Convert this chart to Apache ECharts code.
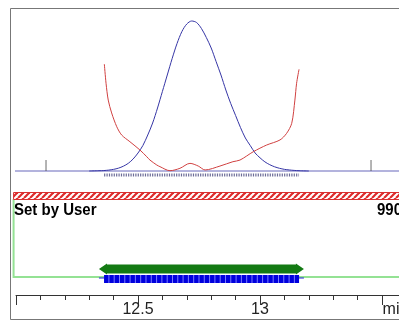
<!DOCTYPE html>
<html>
<head>
<meta charset="utf-8">
<style>
  html, body { margin: 0; padding: 0; background: #fff; }
  #chart { width: 399px; height: 322px; }
</style>
<script src="https://cdn.jsdelivr.net/npm/echarts@6.0.0/dist/echarts.min.js"></script>
</head>
<body>
<div id="chart"></div>
<script>
// Chromatogram trace (blue), min / signal
const BLUE_TIME = [12.30, 12.34, 12.36, 12.38, 12.40, 12.42, 12.44, 12.46, 12.48, 12.50, 12.52, 12.54, 12.56, 12.58, 12.60, 12.62, 12.64, 12.66, 12.68, 12.70, 12.72, 12.74, 12.76, 12.78, 12.80, 12.82, 12.84, 12.86, 12.88, 12.90, 12.92, 12.94, 12.96, 12.98, 13.00, 13.02, 13.04, 13.06, 13.08, 13.10, 13.12, 13.14, 13.16, 13.20];
const BLUE_SIGNAL = [0, 0.2, 0.3, 0.6, 1.1, 1.9, 3.2, 5.1, 8.0, 12, 17, 24, 32, 42, 53, 64, 75, 85, 93, 98, 100, 99, 95, 89, 82, 73, 64, 54, 45, 37, 29, 22, 17, 12, 8.8, 6.1, 4.2, 2.8, 1.8, 1.1, 0.7, 0.4, 0.2, 0];

// Purity / threshold curve (red)
const RED_TIME = [12.362, 12.369, 12.378, 12.392, 12.413, 12.433, 12.467, 12.508, 12.536, 12.549, 12.577, 12.590, 12.631, 12.672, 12.713, 12.747, 12.775, 12.836, 12.889, 12.918, 12.973, 13.027, 13.082, 13.109, 13.130, 13.143, 13.150, 13.160];
const RED_SIGNAL = [71.3, 58.5, 47.3, 38.7, 29.5, 24, 19.5, 14, 9.5, 7.3, 4, 2.9, 0.2, 1.8, 5.1, 3.3, 0.7, 3.3, 6.2, 7.3, 12.9, 17.3, 20.7, 25.1, 31.8, 47.3, 58.5, 67.8];

// markers and ranges (min)
const MARKER_TIME = [12.123, 13.455];
const BASELINE_RANGE = [11.988, 13.60];
const SCAN_RANGE = [12.361, 13.160];
const PEAK_RANGE = [12.340, 13.180];
const HATCH_RANGE = [11.988, 13.60];

const X_TICK_LABELS = { '12.5': '12.5', '13': '13', '13.5': '{u|min}' };
const LABEL_LEFT = 'Set by User';
const LABEL_RIGHT = '990';

// rows of the lower panel, px below the baseline
const ROW = { dots: 4, hatchTop: 21, hatchBottom: 28, arrow: 98, greenLine: 106, thin: 107, bar: 108 };

const chart = echarts.init(document.getElementById('chart'), null, { renderer: 'canvas' });

// red diagonal hatch
function hatchPattern() {
  const c = document.createElement('canvas');
  c.width = 6; c.height = 6;
  const g = c.getContext('2d');
  g.fillStyle = '#fff';
  g.fillRect(0, 0, 6, 6);
  g.strokeStyle = '#dd2a2a';
  g.lineWidth = 2.2;
  [-6, 0, 6].forEach(k => {
    g.beginPath();
    g.moveTo(k, 6);
    g.lineTo(k + 6, 0);
    g.stroke();
  });
  return c;
}
const hatch = hatchPattern();

const span = (a, b, row) => [[a, row], [b, row]];
const axisFont = 'Arial, "Liberation Sans", sans-serif';
const boldFont = 'bold 15px Arial, "Liberation Sans", sans-serif';

chart.setOption({
  animation: false,
  grid: [
    { left: 16, right: -105, top: 21, height: 150, outerBoundsMode: 'none', containLabel: false },
    { left: 16, right: -105, top: 171, height: 124, outerBoundsMode: 'none', containLabel: false }
  ],
  xAxis: [
    { gridIndex: 0, type: 'value', min: 12, max: 14, show: false },
    {
      gridIndex: 1, type: 'value', min: 12, max: 14, interval: 0.5, position: 'bottom',
      axisLine: { onZero: false, lineStyle: { color: '#333', width: 1 } },
      axisTick: { length: 10, lineStyle: { color: '#333' } },
      minorTick: { show: true, splitNumber: 5, length: 5, lineStyle: { color: '#333' } },
      splitLine: { show: false },
      axisLabel: {
        margin: 7,
        fontSize: 16,
        fontFamily: axisFont,
        color: '#222',
        formatter: v => X_TICK_LABELS[String(v)] || '',
        rich: { u: { fontSize: 16, fontFamily: axisFont, color: '#222', padding: [0, 0, 0, 27] } }
      }
    }
  ],
  yAxis: [
    { gridIndex: 0, type: 'value', min: 0, max: 100, show: false },
    { gridIndex: 1, type: 'value', min: 0, max: 124, inverse: true, show: false }
  ],
  series: [
    // baseline
    {
      type: 'line', xAxisIndex: 0, yAxisIndex: 0, clip: false,
      data: span(BASELINE_RANGE[0], BASELINE_RANGE[1], 0),
      showSymbol: false,
      lineStyle: { color: '#9a9ad2', width: 1.6 }, z: 2
    },
    {
      type: 'line', xAxisIndex: 0, yAxisIndex: 0, clip: false,
      data: BLUE_TIME.map((t, i) => [t, BLUE_SIGNAL[i]]),
      showSymbol: false, smooth: 0.3,
      lineStyle: { color: '#3535a5', width: 1 }, z: 3
    },
    {
      type: 'line', xAxisIndex: 0, yAxisIndex: 0, clip: false,
      data: RED_TIME.map((t, i) => [t, RED_SIGNAL[i]]),
      showSymbol: false, smooth: 0.3,
      lineStyle: { color: '#d04040', width: 1 }, z: 4
    },
    {
      type: 'scatter', xAxisIndex: 0, yAxisIndex: 0,
      data: MARKER_TIME.map(t => [t, 0]),
      symbol: 'rect', symbolSize: [1, 11], symbolOffset: [0, '-50%'],
      itemStyle: { color: '#444' }, z: 5
    },
    // scan ticks under the baseline
    {
      type: 'line', xAxisIndex: 1, yAxisIndex: 1, clip: false,
      data: span(SCAN_RANGE[0], SCAN_RANGE[1], ROW.dots),
      showSymbol: false,
      lineStyle: { color: '#6c6c98', width: 3, type: [1.2, 1.2] }
    },
    // hatched band
    {
      type: 'custom', xAxisIndex: 1, yAxisIndex: 1, clip: false,
      data: [[HATCH_RANGE[0], HATCH_RANGE[1]]],
      encode: { x: [0, 1] },
      renderItem: (params, api) => {
        const p0 = api.coord([api.value(0), ROW.hatchTop]);
        const p1 = api.coord([api.value(1), ROW.hatchBottom]);
        return {
          type: 'rect',
          shape: { x: p0[0] + 0.5, y: p0[1] + 0.5, width: p1[0] - p0[0], height: p1[1] - p0[1] },
          style: { fill: { image: hatch, repeat: 'repeat' }, stroke: '#d83030', lineWidth: 1 }
        };
      }
    },
    // light green L line
    {
      type: 'custom', xAxisIndex: 1, yAxisIndex: 1, clip: false,
      data: [[HATCH_RANGE[0], HATCH_RANGE[1]]],
      encode: { x: [0, 1] },
      renderItem: (params, api) => {
        const a = api.coord([api.value(0), ROW.hatchBottom]);
        const b = api.coord([api.value(0), ROW.greenLine]);
        const c = api.coord([api.value(1), ROW.greenLine]);
        return {
          type: 'polyline',
          shape: { points: [[a[0] + 0.5, a[1]], [b[0] + 0.5, b[1]], [c[0], c[1]]] },
          style: { stroke: '#94e294', lineWidth: 2, fill: null }
        };
      },
      z: 1
    },
    // green peak arrow
    {
      type: 'custom', xAxisIndex: 1, yAxisIndex: 1, clip: false,
      data: [[PEAK_RANGE[0], PEAK_RANGE[1]]],
      encode: { x: [0, 1] },
      renderItem: (params, api) => {
        const a = api.coord([api.value(0), ROW.arrow]);
        const b = api.coord([api.value(1), ROW.arrow]);
        const h = 4.5, hh = 5.5, len = 8;
        return {
          type: 'polygon',
          shape: {
            points: [
              [a[0], a[1]], [a[0] + len, a[1] - hh], [a[0] + len, a[1] - h],
              [b[0] - len, b[1] - h], [b[0] - len, b[1] - hh], [b[0], b[1]],
              [b[0] - len, b[1] + hh], [b[0] - len, b[1] + h],
              [a[0] + len, a[1] + h], [a[0] + len, a[1] + hh]
            ]
          },
          style: { fill: '#137a13' }
        };
      },
      z: 3
    },
    // thin blue line behind the fraction bar
    {
      type: 'line', xAxisIndex: 1, yAxisIndex: 1, clip: false,
      data: span(PEAK_RANGE[0], PEAK_RANGE[1], ROW.thin),
      showSymbol: false,
      lineStyle: { color: '#2222dd', width: 1 }, z: 2
    },
    // blue fraction bar
    {
      type: 'line', xAxisIndex: 1, yAxisIndex: 1, clip: false,
      data: span(SCAN_RANGE[0], SCAN_RANGE[1], ROW.bar),
      showSymbol: false,
      lineStyle: { color: '#7a7aff', width: 8 }, z: 3
    },
    {
      type: 'line', xAxisIndex: 1, yAxisIndex: 1, clip: false,
      data: span(SCAN_RANGE[0], SCAN_RANGE[1], ROW.bar),
      showSymbol: false,
      lineStyle: { color: '#0000dd', width: 8, type: [4.3, 1] }, z: 4
    }
  ],
  graphic: [
    {
      type: 'rect', silent: true, z: 100,
      shape: { x: 10.5, y: 8.5, width: 400, height: 311 },
      style: { fill: 'none', stroke: '#777', lineWidth: 1 }
    },
    {
      type: 'text', x: 14, y: 201.5, scaleY: 1.15, z: 100,
      style: { text: LABEL_LEFT, font: boldFont, fill: '#000' }
    },
    {
      type: 'text', x: 377, y: 201.5, scaleY: 1.15, z: 100,
      style: { text: LABEL_RIGHT, font: boldFont, fill: '#000' }
    }
  ]
});
</script>
</body>
</html>
